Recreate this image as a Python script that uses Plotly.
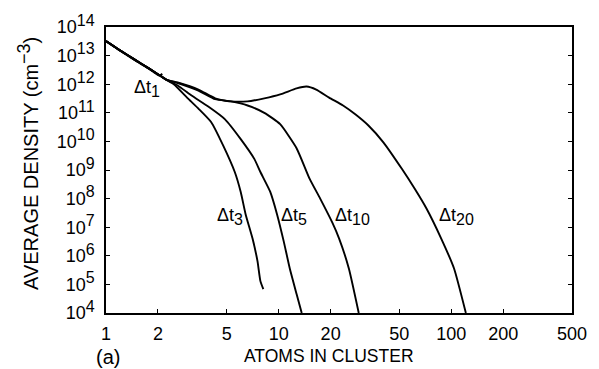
import math
import plotly.graph_objects as go

# Cluster size (atoms) and average density (cm^-3) for each time step
dt1_x = [1.0, 1.2, 1.46, 1.78, 2.03, 2.12]
dt1_y = [3.2e13, 1.5e13, 7.0e12, 3.4e12, 2.0e12, 2.3e12]

dt3_x = [1.0, 1.2, 1.46, 1.78, 2.03, 2.23, 2.47, 3.01, 3.43, 4.07, 4.76, 5.57, 6.03, 6.44, 7.06, 7.54,
         7.84, 8.15]
dt3_y = [3.2e13, 1.55e13, 7.4e12, 3.5e12, 2.1e12, 1.45e12, 1.0e12, 3.0e11, 1.4e11, 4.7e10, 7.4e9,
         8.5e8, 1.7e8, 2.8e7, 4.0e6, 6.5e5, 1.3e5, 6.8e4]

dt5_x = [1.0, 1.2, 1.46, 1.78, 2.03, 2.23, 2.6, 3.13, 3.91, 4.89, 6.03, 7.24, 7.84, 8.93, 9.79, 10.7,
         11.6, 12.7, 13.6]
dt5_y = [3.2e13, 1.55e13, 7.4e12, 3.5e12, 2.1e12, 1.45e12, 9.0e11, 4.0e11, 1.65e11, 5.9e10, 1.2e10,
         2.4e9, 8.5e8, 1.75e8, 2.8e7, 3.2e6, 3.6e5, 4.6e4, 1.0e4]

dt10_x = [1.0, 1.2, 1.46, 1.78, 2.03, 2.23, 2.6, 3.43, 4.29, 5.29, 6.61, 8.26, 10.2, 12.7, 15.1, 17.4,
          20.4, 22.4, 25.5, 29.1]
dt10_y = [3.2e13, 1.55e13, 7.4e12, 3.5e12, 2.1e12, 1.45e12, 1.1e12, 6.0e11, 3.0e11, 2.5e11, 1.8e11,
          1.0e11, 4.0e10, 5.8e9, 5.0e8, 1.0e8, 1.5e7, 4.0e6, 3.6e5, 1.0e4]

dt20_x = [1.0, 1.2, 1.46, 1.78, 2.03, 2.23, 2.6, 3.43, 4.29, 5.29, 6.61, 8.26, 10.2, 12.7, 14.5, 16.5,
          19.6, 23.6, 27.9, 33.1, 40.4, 51.7, 61.4, 71.8, 87.4, 103.7, 121.4]
dt20_y = [3.2e13, 1.55e13, 7.4e12, 3.5e12, 2.1e12, 1.45e12, 1.15e12, 6.5e11, 3.2e11, 2.5e11, 2.5e11,
          3.2e11, 4.4e11, 7.1e11, 8.3e11, 6.5e11, 3.4e11, 1.8e11, 8.7e10, 3.6e10, 9.3e9, 1.1e9,
          2.2e8, 4.5e7, 4.0e6, 3.6e5, 1.0e4]

series = [
    ("dt1", dt1_x, dt1_y),
    ("dt3", dt3_x, dt3_y),
    ("dt5", dt5_x, dt5_y),
    ("dt10", dt10_x, dt10_y),
    ("dt20", dt20_x, dt20_y),
]

# Curve labels: subscript, cluster size at the label's left edge, density
label_sub = ["1", "3", "5", "10", "20"]
label_x = [1.41, 4.29, 10.05, 20.7, 83.0]
label_y = [7.0e11, 2.4e7, 2.4e7, 2.4e7, 2.4e7]

x_ticks = [1, 2, 5, 10, 20, 50, 100, 200, 500]
y_exponents = list(range(4, 15))

FONT = "Liberation Sans, Arial, Helvetica, sans-serif"

L, R, T, B = 106, 19, 24, 56
W, H = 599, 369
PW, PH = W - L - R, H - T - B


def px_to_paper(px, py):
    return (px - L) / PW, (H - B - py) / PH


fig = go.Figure()
for name, xs, ys in series:
    fig.add_trace(go.Scatter(
        x=xs, y=ys, mode="lines", name=name,
        line=dict(color="black", width=1.9, shape="spline", smoothing=0.5),
        showlegend=False, hoverinfo="skip",
    ))

for sub, lx, ly in zip(label_sub, label_x, label_y):
    fig.add_annotation(
        x=math.log10(lx), y=math.log10(ly), xref="x", yref="y",
        text=f"Δt<sub><span style='font-size:16px'>{sub}</span></sub>", showarrow=False,
        xanchor="left",
        font=dict(family=FONT, size=18, color="black"),
    )

# Panel tag, x-axis title and y-axis title placed in pixel space
px, py = px_to_paper(108, 357)
fig.add_annotation(x=px, y=py, xref="paper", yref="paper", text="(a)", showarrow=False,
                   xanchor="center", yanchor="middle",
                   font=dict(family=FONT, size=20, color="black"))
px, py = px_to_paper(333, 356)
fig.add_annotation(x=px, y=py, xref="paper", yref="paper", text="ATOMS IN CLUSTER",
                   showarrow=False, xanchor="center", yanchor="middle",
                   font=dict(family=FONT, size=17.5, color="black"))
px, py = px_to_paper(26, 162)
fig.add_annotation(x=px, y=py, xref="paper", yref="paper", textangle=-90,
                   text="AVERAGE DENSITY (cm<sup><span style='font-size:18px'>−3</span></sup>)",
                   showarrow=False, xanchor="center", yanchor="middle",
                   font=dict(family=FONT, size=20, color="black"))

fig.update_layout(
    width=W, height=H,
    margin=dict(l=L, r=R, t=T, b=B),
    paper_bgcolor="white", plot_bgcolor="white",
    font=dict(family=FONT, size=14, color="black"),
)

fig.update_xaxes(
    type="log", range=[0, math.log10(500)],
    tickvals=x_ticks, ticktext=[str(v) for v in x_ticks],
    ticks="inside", ticklen=4, tickwidth=1, tickcolor="black",
    showline=True, linecolor="black", linewidth=1.6, mirror=True,
    showgrid=False, zeroline=False, ticklabelstandoff=4,
    tickfont=dict(family=FONT, size=18),
)
fig.update_yaxes(
    type="log", range=[4, 14],
    tickvals=[10 ** k for k in y_exponents],
    ticktext=[f"10<sup><span style='font-size:16px'>{k}</span></sup>" for k in y_exponents],
    ticks="inside", ticklen=4, tickwidth=1, tickcolor="black",
    showline=True, linecolor="black", linewidth=1.6, mirror="ticks",
    showgrid=False, zeroline=False, ticklabelstandoff=6,
    tickfont=dict(family=FONT, size=18),
)

fig.write_html("out.html")
